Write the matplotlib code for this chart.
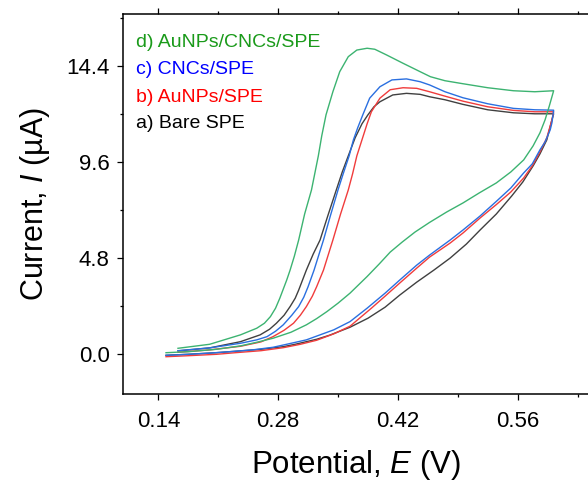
import numpy as np
import matplotlib
matplotlib.use("Agg")
import matplotlib.pyplot as plt
from matplotlib.ticker import MultipleLocator

plt.rcParams['font.family'] = ['Liberation Sans', 'DejaVu Sans']
plt.rcParams['mathtext.fontset'] = 'custom'
plt.rcParams['mathtext.rm'] = 'Liberation Sans'
plt.rcParams['mathtext.it'] = 'Liberation Sans:italic'

# CV curves: potential (V), current (uA)
# a) Bare SPE
E_a = [0.163, 0.200, 0.236, 0.259, 0.270, 0.278, 0.287, 0.294, 0.300, 0.304, 0.313, 0.321, 0.329, 0.338,
       0.348, 0.355, 0.362, 0.370, 0.378, 0.385, 0.392, 0.399, 0.414, 0.430, 0.446, 0.457, 0.475, 0.496,
       0.525, 0.555, 0.580, 0.602,
       0.602, 0.600, 0.594, 0.586, 0.578, 0.566, 0.553, 0.535, 0.516, 0.500, 0.481, 0.462, 0.442, 0.422,
       0.405, 0.385, 0.364, 0.340, 0.325, 0.300, 0.286, 0.260, 0.230, 0.208, 0.175, 0.149]
I_a = [0.17, 0.32, 0.63, 0.97, 1.25, 1.55, 1.95, 2.38, 2.80, 3.20, 4.20, 5.00, 5.70, 6.90,
       8.20, 9.10, 9.90, 10.80, 11.50, 11.95, 12.35, 12.60, 12.94, 13.02, 12.97, 12.85, 12.70, 12.47,
       12.20, 12.05, 12.00, 12.00,
       12.00, 11.70, 10.70, 10.00, 9.40, 8.60, 7.90, 7.00, 6.20, 5.50, 4.80, 4.20, 3.60, 2.95,
       2.35, 1.80, 1.35, 0.95, 0.75, 0.50, 0.38, 0.25, 0.15, 0.08, 0.00, -0.05]

# b) AuNPs/SPE
E_b = [0.163, 0.200, 0.236, 0.260, 0.274, 0.287, 0.298, 0.306, 0.313, 0.320, 0.325, 0.333, 0.344, 0.353,
       0.362, 0.367, 0.372, 0.378, 0.384, 0.389, 0.399, 0.411, 0.426, 0.442, 0.457, 0.475, 0.496, 0.525,
       0.555, 0.580, 0.602,
       0.602, 0.600, 0.594, 0.586, 0.577, 0.567, 0.552, 0.535, 0.516, 0.496, 0.481, 0.457, 0.442, 0.422,
       0.405, 0.389, 0.364, 0.345, 0.325, 0.306, 0.286, 0.260, 0.230, 0.208, 0.175, 0.149]
I_b = [0.10, 0.22, 0.40, 0.62, 0.88, 1.20, 1.55, 1.95, 2.38, 2.90, 3.37, 4.20, 5.70, 7.00,
       8.20, 9.00, 9.90, 10.70, 11.50, 12.10, 12.78, 13.20, 13.30, 13.27, 13.10, 12.88, 12.63, 12.35,
       12.17, 12.10, 12.10,
       12.10, 11.70, 10.80, 10.10, 9.40, 8.80, 8.10, 7.47, 6.80, 6.05, 5.55, 4.85, 4.30, 3.55,
       2.90, 2.30, 1.40, 1.02, 0.70, 0.50, 0.33, 0.18, 0.08, 0.00, -0.07, -0.12]

# c) CNCs/SPE
E_c = [0.163, 0.200, 0.236, 0.255, 0.267, 0.277, 0.286, 0.296, 0.304, 0.310, 0.315, 0.322, 0.333, 0.341,
       0.350, 0.356, 0.363, 0.368, 0.373, 0.379, 0.387, 0.399, 0.413, 0.430, 0.446, 0.457, 0.475, 0.496,
       0.525, 0.555, 0.580, 0.602,
       0.602, 0.600, 0.598, 0.592, 0.586, 0.577, 0.567, 0.552, 0.535, 0.516, 0.496, 0.481, 0.457, 0.442,
       0.422, 0.405, 0.384, 0.364, 0.345, 0.313, 0.290, 0.274, 0.250, 0.220, 0.200, 0.175, 0.149]
I_c = [0.18, 0.32, 0.55, 0.72, 0.88, 1.15, 1.47, 1.95, 2.38, 2.85, 3.37, 4.20, 5.70, 6.90,
       8.20, 9.00, 9.90, 10.70, 11.30, 11.95, 12.78, 13.35, 13.69, 13.74, 13.60, 13.44, 13.10, 12.80,
       12.50, 12.27, 12.20, 12.18,
       12.18, 11.55, 11.20, 10.60, 10.20, 9.50, 9.05, 8.30, 7.63, 6.90, 6.20, 5.70, 4.95, 4.45,
       3.70, 3.05, 2.30, 1.63, 1.22, 0.72, 0.50, 0.35, 0.22, 0.12, 0.06, 0.00, -0.05]

# d) AuNPs/CNCs/SPE
E_d = [0.163, 0.200, 0.236, 0.255, 0.264, 0.271, 0.277, 0.282, 0.290, 0.294, 0.299, 0.304, 0.311, 0.319,
       0.327, 0.331, 0.336, 0.344, 0.352, 0.362, 0.372, 0.384, 0.393, 0.407, 0.426, 0.446, 0.458, 0.475,
       0.496, 0.525, 0.555, 0.580, 0.602,
       0.602, 0.597, 0.592, 0.586, 0.578, 0.567, 0.552, 0.535, 0.515, 0.496, 0.477, 0.457, 0.440, 0.425,
       0.411, 0.398, 0.384, 0.364, 0.350, 0.337, 0.325, 0.313, 0.295, 0.274, 0.255, 0.236, 0.208, 0.175,
       0.149]
I_d = [0.30, 0.50, 0.97, 1.30, 1.55, 1.88, 2.30, 2.80, 3.70, 4.20, 4.90, 5.70, 7.00, 8.20,
       9.90, 10.90, 11.95, 13.10, 14.10, 14.85, 15.18, 15.27, 15.22, 14.93, 14.52, 14.10, 13.85, 13.65,
       13.50, 13.30, 13.15, 13.10, 13.15,
       13.15, 12.40, 11.70, 11.05, 10.40, 9.70, 9.10, 8.55, 8.05, 7.55, 7.10, 6.58, 6.10, 5.60,
       5.10, 4.50, 3.88, 3.05, 2.55, 2.13, 1.78, 1.47, 1.10, 0.80, 0.60, 0.42, 0.25, 0.13,
       0.08]

labels = ['a) Bare SPE', 'b) AuNPs/SPE', 'c) CNCs/SPE', 'd) AuNPs/CNCs/SPE']
line_colors = ['#404040', '#f03c3c', '#2a6fe0', '#3cb371']
text_colors = ['#000000', '#ff0000', '#0000ff', '#1a9a1a']

fig = plt.figure(figsize=(5.88, 4.82), dpi=100)
ax = fig.add_axes([0.2087, 0.1826, 0.794, 0.7884])

for E, I, c in zip([E_a, E_b, E_c, E_d], [I_a, I_b, I_c, I_d], line_colors):
    ax.plot(E, I, color=c, lw=1.0, solid_joinstyle='round')

ax.set_xlim(0.0984, 0.644)
ax.set_ylim(-1.98, 16.98)
ax.xaxis.set_major_locator(MultipleLocator(0.14))
ax.xaxis.set_minor_locator(MultipleLocator(0.07))
ax.yaxis.set_major_locator(MultipleLocator(4.8))
ax.yaxis.set_minor_locator(MultipleLocator(2.4))
ax.xaxis.set_major_formatter(plt.FormatStrFormatter('%.2f'))
ax.yaxis.set_major_formatter(plt.FormatStrFormatter('%.1f'))
ax.tick_params(which='both', direction='out', top=True, right=True, width=0.9)
ax.tick_params(which='major', length=4.5, labelsize=16)
ax.tick_params(axis='x', which='major', pad=7.5)
ax.tick_params(axis='y', which='major', pad=5)
ax.tick_params(which='minor', length=2.5)
ax.tick_params(labeltop=False, labelright=False)
for s in ax.spines.values():
    s.set_linewidth(1.1)

ax.set_xlabel('Potential, $E$ (V)', fontsize=22.5, labelpad=12)
ax.set_ylabel('Current, $I$ (µA)', fontsize=22, labelpad=10)

# labels listed top to bottom
ys = [0.7344, 0.789, 0.8465, 0.9031]
for lab, col, y in zip(labels, text_colors, ys):
    fig.text(0.2313, y, lab, color=col, fontsize=14, va='baseline', ha='left')

fig.savefig('out.png', dpi=100)
